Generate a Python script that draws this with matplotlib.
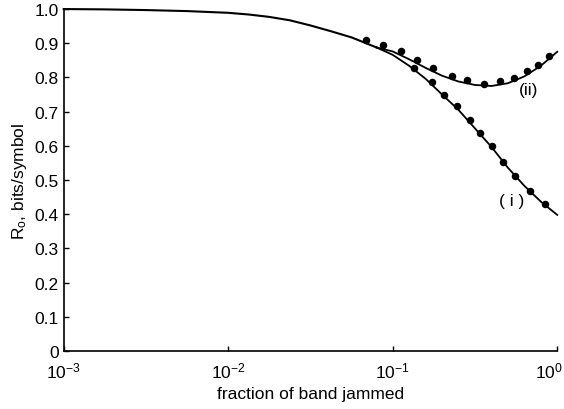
import numpy as np
import matplotlib.pyplot as plt
from matplotlib.ticker import FuncFormatter

plt.rcParams['font.family'] = ['Liberation Sans', 'DejaVu Sans']
plt.rcParams['mathtext.fontset'] = 'custom'
plt.rcParams['mathtext.rm'] = 'Liberation Sans'
plt.rcParams['mathtext.it'] = 'Liberation Sans:italic'

# common part of both curves (log10 of fraction jammed, R0)
log_common = [-3.0, -2.75, -2.5, -2.25, -2.0, -1.875, -1.75, -1.625, -1.5, -1.375, -1.25, -1.1]
r0_common = [1.000, 0.999, 0.997, 0.994, 0.989, 0.984, 0.977, 0.967, 0.952, 0.935, 0.917, 0.888]

# curve (i)
log_i = [-1.1, -1.0, -0.9, -0.8, -0.7, -0.6, -0.5, -0.4, -0.3, -0.2, -0.1, 0.0]
r0_i = [0.888, 0.866, 0.834, 0.796, 0.750, 0.705, 0.651, 0.597, 0.536, 0.483, 0.437, 0.398]

# curve (ii)
log_ii = [-1.1, -1.0, -0.9, -0.8, -0.7, -0.6, -0.5, -0.4, -0.3, -0.2, -0.1, 0.0]
r0_ii = [0.888, 0.876, 0.853, 0.828, 0.805, 0.788, 0.778, 0.775, 0.783, 0.803, 0.834, 0.875]

# simulated points
pts_log_i = [-1.160, -1.059, -0.870, -0.764, -0.689, -0.610, -0.530, -0.467, -0.398,
             -0.327, -0.256, -0.165, -0.073]
pts_r0_i = [0.910, 0.896, 0.829, 0.788, 0.750, 0.716, 0.675, 0.637, 0.600,
            0.553, 0.512, 0.469, 0.430]
pts_log_ii = [-0.951, -0.855, -0.754, -0.642, -0.551, -0.443, -0.348, -0.262,
              -0.185, -0.118, -0.053]
pts_r0_ii = [0.876, 0.851, 0.827, 0.804, 0.792, 0.782, 0.789, 0.799,
             0.818, 0.837, 0.862]

yticks = [0, 0.1, 0.2, 0.3, 0.4, 0.5, 0.6, 0.7, 0.8, 0.9, 1.0]
ytick_labels = ['0', '0.1', '0.2', '0.3', '0.4', '0.5', '0.6', '0.7', '0.8', '0.9', '1.0']
xticks = [1e-3, 1e-2, 1e-1, 1e0]

fig = plt.figure(figsize=(5.64, 4.10), dpi=100)
ax = fig.add_axes([0.113, 0.1415, 0.875, 0.834])

ax.plot(10 ** np.array(log_common), r0_common, color='black', lw=1.5, clip_on=False)
ax.plot(10 ** np.array(log_i), r0_i, color='black', lw=1.3, clip_on=False)
ax.plot(10 ** np.array(log_ii), r0_ii, color='black', lw=1.3, clip_on=False)
ax.plot(10 ** np.array(pts_log_i), pts_r0_i, 'o', color='black', ms=4.4)
ax.plot(10 ** np.array(pts_log_ii), pts_r0_ii, 'o', color='black', ms=4.4)

ax.text(0.53, 0.439, '( i )', fontsize=12.5, ha='center', va='center')
ax.text(0.67, 0.766, '(ii)', fontsize=12.5, ha='center', va='center')

ax.set_xscale('log')
ax.set_xlim(1e-3, 1)
ax.set_ylim(0, 1.0)
ax.set_xticks(xticks)
ax.set_yticks(yticks)
ax.set_yticklabels(ytick_labels)
ax.xaxis.set_minor_locator(plt.NullLocator())


def decade(v, pos):
    e = int(round(np.log10(v)))
    # the last decade label is drawn separately, nudged inside the figure
    if e == 0:
        return ''
    return r'$\mathdefault{10^{%d}}$' % e


ax.xaxis.set_major_formatter(FuncFormatter(decade))
ax.tick_params(direction='in', length=3.5, width=1, labelsize=12.5)
ax.tick_params(axis='x', pad=7)
ax.annotate(r'$\mathdefault{10^{0}}$', xy=(1, 0), xycoords='axes fraction',
            xytext=(-6, -7), textcoords='offset points',
            ha='center', va='top', fontsize=12.5)

ax.spines['top'].set_visible(False)
ax.spines['right'].set_visible(False)
ax.spines['left'].set_linewidth(1.2)
ax.spines['bottom'].set_linewidth(1.2)

ax.set_xlabel('fraction of band jammed', fontsize=12.5, labelpad=4)
ax.set_ylabel(r'R$_\mathrm{o}$, bits/symbol', fontsize=12.5, labelpad=4)

fig.savefig('out.png', dpi=100)
